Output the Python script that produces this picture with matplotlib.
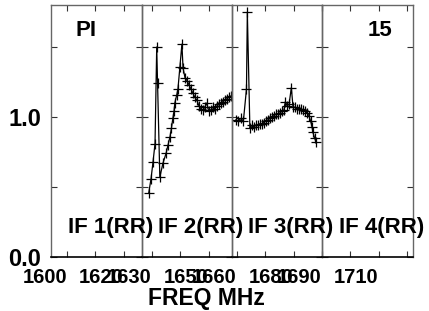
import matplotlib
matplotlib.use('Agg')
import matplotlib.pyplot as plt
from matplotlib.transforms import ScaledTranslation

plt.rcParams['font.family'] = ['Liberation Sans', 'DejaVu Sans']
plt.rcParams['font.weight'] = 'bold'

# IF 2 spectrum (freq MHz, amplitude)
if2_freq = [1628.9, 1629.7, 1630.4, 1631.1, 1631.7, 1632.0, 1632.8, 1633.9, 1635.0, 1635.7,
            1636.4, 1636.9, 1637.4, 1637.8, 1638.1, 1638.8, 1639.2, 1639.9, 1640.6, 1641.0,
            1641.7, 1642.4, 1643.1, 1643.8, 1644.5, 1645.2, 1645.9, 1646.6, 1647.3, 1648.0,
            1648.7, 1649.4, 1650.1, 1650.8, 1651.5, 1652.2, 1653.0, 1653.7, 1654.4, 1655.1,
            1655.8, 1656.5, 1657.2, 1657.9]
if2_amp = [0.46, 0.56, 0.68, 0.81, 1.50, 1.24, 0.57, 0.67, 0.74, 0.80,
           0.86, 0.92, 0.99, 1.04, 1.10, 1.16, 1.20, 1.36, 1.52, 1.35,
           1.28, 1.26, 1.23, 1.20, 1.17, 1.14, 1.12, 1.08, 1.06, 1.05,
           1.07, 1.10, 1.04, 1.05, 1.07, 1.06, 1.08, 1.09, 1.10, 1.11,
           1.12, 1.13, 1.14, 1.15]

# IF 3 spectrum
if3_freq = [1659.7, 1660.5, 1661.4, 1662.3, 1663.4, 1663.7, 1664.6, 1665.3, 1666.0, 1666.7,
            1667.4, 1668.1, 1668.8, 1669.5, 1670.2, 1671.0, 1671.7, 1672.4, 1673.1, 1673.8,
            1674.5, 1675.2, 1675.9, 1676.6, 1677.1, 1677.7, 1678.4, 1679.2, 1679.8, 1680.5,
            1681.2, 1681.9, 1682.6, 1683.3, 1684.0, 1684.7, 1685.4, 1686.0, 1686.5, 1686.8,
            1687.4, 1687.9]
if3_amp = [0.98, 0.97, 0.99, 0.97, 1.20, 1.75, 0.92, 0.94, 0.93, 0.94,
           0.94, 0.95, 0.95, 0.96, 0.97, 0.98, 0.99, 1.00, 1.01, 1.02,
           1.02, 1.03, 1.04, 1.05, 1.11, 1.08, 1.09, 1.21, 1.07, 1.07,
           1.06, 1.06, 1.06, 1.05, 1.04, 1.03, 1.01, 0.97, 0.93, 0.89,
           0.85, 0.82]

# panel setup
panel_names = ['IF 1(RR)', 'IF 2(RR)', 'IF 3(RR)', 'IF 4(RR)']
panel_xlim = [(1594.35, 1626.5), (1626.5, 1658.3), (1658.3, 1690.0), (1690.0, 1722.1)]
panel_ticks = [[1600, 1610, 1620], [1630, 1640, 1650], [1660, 1670, 1680, 1690], [1690, 1700, 1710, 1720]]
panel_labels = [['1600', '', '1620'], ['1630', '', '1650'], ['1660', '', '1680', ''], ['1690', '', '1710', '']]
panel_data = [None, (if2_freq, if2_amp), (if3_freq, if3_amp), None]

W, H = 429, 311
fig = plt.figure(figsize=(W / 100, H / 100), dpi=100)

px_left = [51, 142, 232, 322, 413]
top_px, bot_px = 5, 257
frame_col = '#666666'

for i in range(4):
    x0, x1 = px_left[i], px_left[i + 1]
    ax = fig.add_axes([x0 / W, 1 - bot_px / H, (x1 - x0) / W, (bot_px - top_px) / H])
    ax.set_xlim(*panel_xlim[i])
    ax.set_ylim(0, 1.8)
    if panel_data[i] is not None:
        f, a = panel_data[i]
        ax.plot(f, a, color='black', lw=0.9, marker='+', ms=7, mew=0.9)
    for s in ['left', 'right', 'top']:
        ax.spines[s].set_color(frame_col)
        ax.spines[s].set_linewidth(1.0)
    ax.spines['bottom'].set_color('black')
    ax.spines['bottom'].set_linewidth(1.2)
    ax.set_xticks(panel_ticks[i])
    ax.set_xticklabels(panel_labels[i], ha='right', fontsize=14.5, fontweight='bold')
    dx = 9 if i == 3 else 2
    for lab in ax.get_xticklabels():
        lab.set_transform(lab.get_transform() + ScaledTranslation(dx / 100, 0, fig.dpi_scale_trans))
    ax.set_yticks([0, 0.5, 1.0, 1.5])
    if i == 0:
        ax.set_yticklabels(['0.0', '', '1.0', ''], fontsize=17, fontweight='bold')
    else:
        ax.set_yticklabels([])
    ax.tick_params(axis='both', direction='in', length=4, width=0.8, color='#333333',
                   top=True, right=True)
    ax.tick_params(axis='x', pad=8)
    ax.tick_params(axis='y', pad=7)
    ax.patch.set_alpha(0)
    fig.text(((x0 + x1) / 2 + 14) / W, 1 - 227 / H, panel_names[i], ha='center', va='center',
             fontsize=16, fontweight='bold')

fig.text(86 / W, 1 - 30 / H, 'PI', ha='center', va='center', fontsize=16, fontweight='bold')
fig.text(380 / W, 1 - 30 / H, '15', ha='center', va='center', fontsize=16, fontweight='bold')
fig.text(206 / W, 1 - 298 / H, 'FREQ MHz', ha='center', va='center', fontsize=16.5, fontweight='bold')

fig.savefig('out.png', dpi=100)
